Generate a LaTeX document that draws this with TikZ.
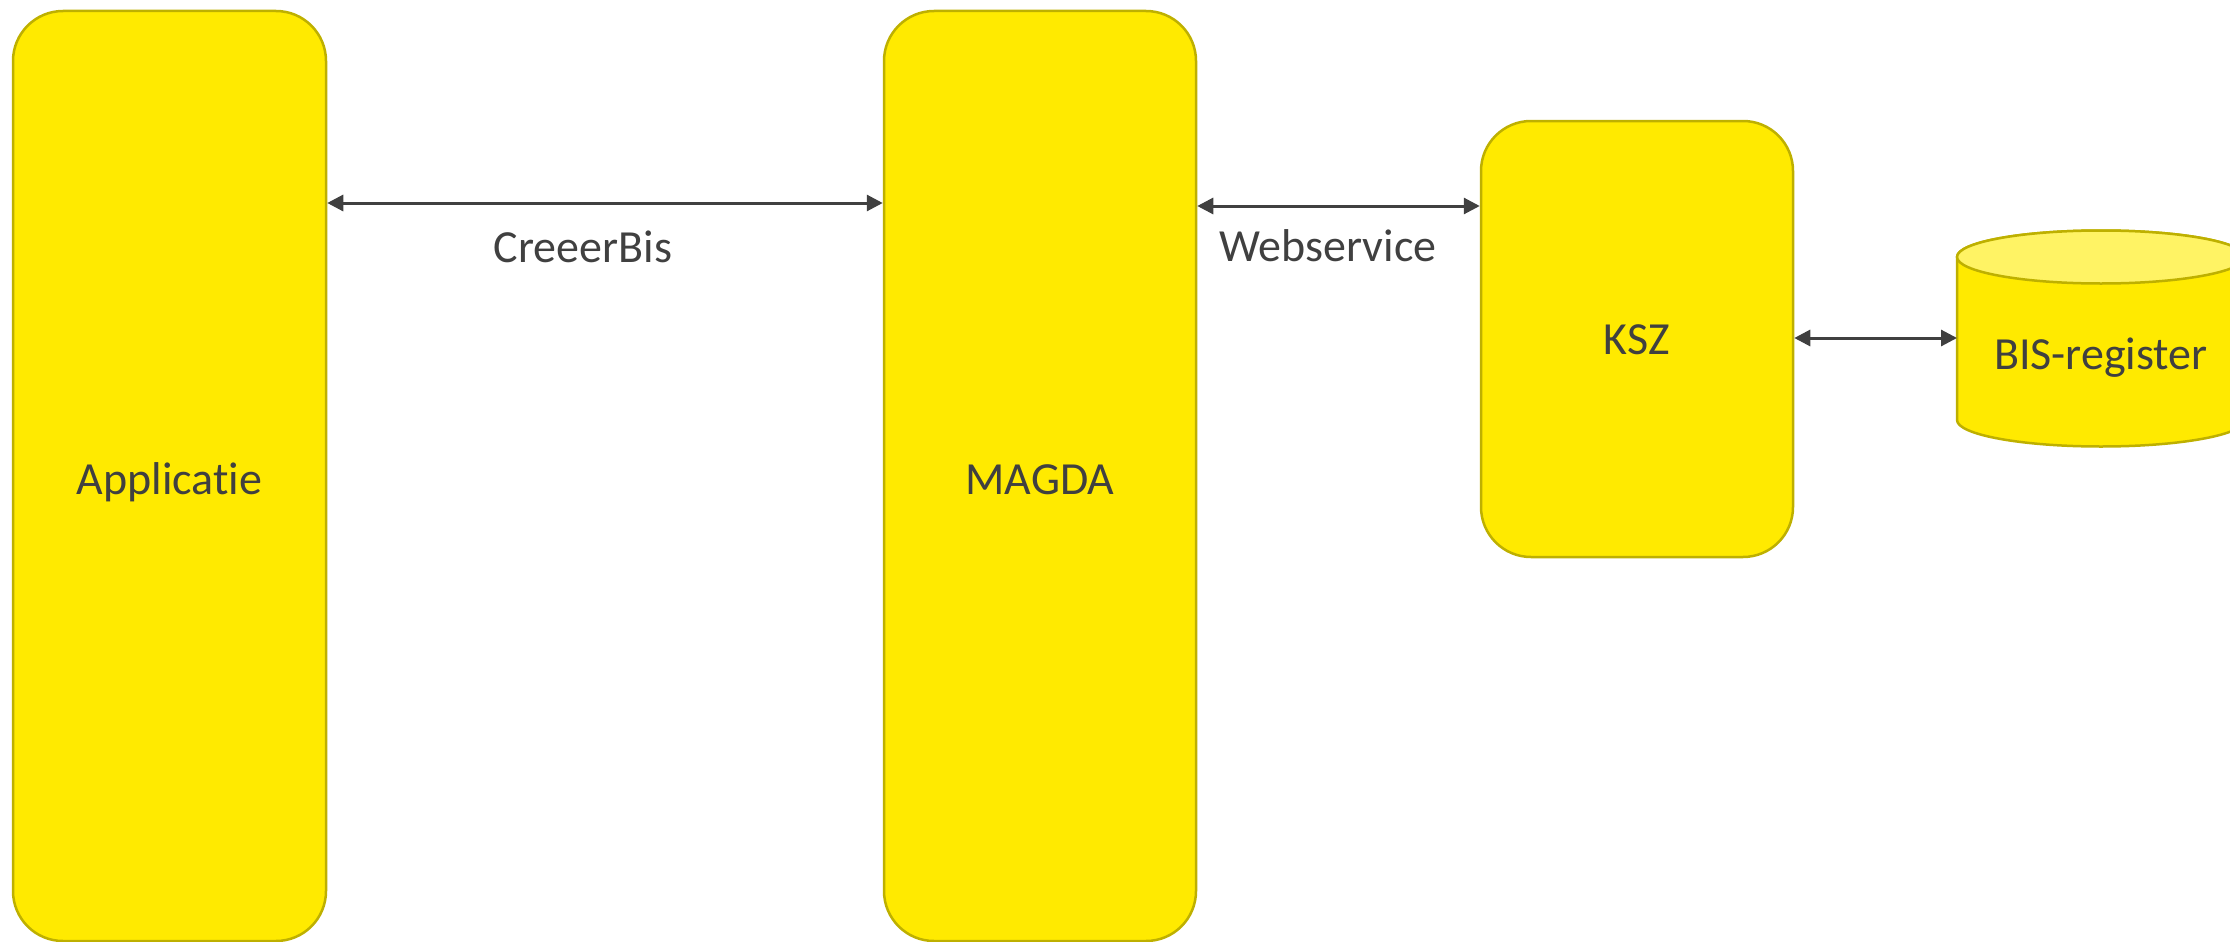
\documentclass[tikz,border=0pt]{standalone}
\usepackage{fontspec}
\newfontfamily\lblfont{Carlito}[Ligatures=NoCommon]
\usetikzlibrary{arrows.meta}
\definecolor{boxfill}{RGB}{255,234,0}
\definecolor{boxline}{RGB}{190,176,0}
\definecolor{capfill}{RGB}{255,243,100}
\definecolor{txt}{RGB}{64,64,64}
\tikzset{
  txtfont/.style={font=\lblfont\fontsize{46}{55}\selectfont},
  box/.style={draw=boxline, fill=boxfill, line width=2.5pt, rounded corners=50pt,
    text=txt, txtfont, inner sep=0pt, text depth=0pt},
  conn/.style={draw=txt, line width=3pt, {Triangle[length=16pt,width=16pt]}-{Triangle[length=16pt,width=16pt]}},
  lbl/.style={text=txt, txtfont, inner sep=0pt}
}
\begin{document}
\begin{tikzpicture}[x=1pt,y=-1pt]
\useasboundingbox (0,0) rectangle (2230,942);
\node[box, minimum width=313pt, minimum height=930pt, text height=36pt] (app) at (169.5,476) {Applicatie};
\node[box, minimum width=312pt, minimum height=930pt, text height=36pt] (magda) at (1040,476) {MAGDA};
\node[box, minimum width=312pt, minimum height=436pt, text height=30pt] (ksz) at (1637,339) {KSZ};
% cylinder
\path[draw=boxline, fill=boxfill, line width=2.5pt]
  (1957,257) -- (1957,420) arc[start angle=180, end angle=360, x radius=144pt, y radius=26.5pt]
  -- (2245,257) arc[start angle=0, end angle=180, x radius=144pt, y radius=26.5pt] -- cycle;
\draw[draw=boxline, fill=capfill, line width=2.5pt] (2101,257) ellipse[x radius=144pt, y radius=26.5pt];
\node[lbl, anchor=base] (bis) at (2101,369) {BIS-register};
\coordinate (bisL) at (1957,338);
\coordinate (r1) at (0,203);
\coordinate (r2) at (0,206);
\draw[conn] (app.east |- r1) -- (magda.west |- r1);
\draw[conn] (magda.east |- r2) -- (ksz.west |- r2);
\draw[conn] (ksz.east |- bisL) -- (bisL);
\node[lbl, anchor=base] (l1) at (583,262) {CreeerBis};
\node[lbl, anchor=base] (l2) at (1328,261) {Webservice};
\end{tikzpicture}
\end{document}
